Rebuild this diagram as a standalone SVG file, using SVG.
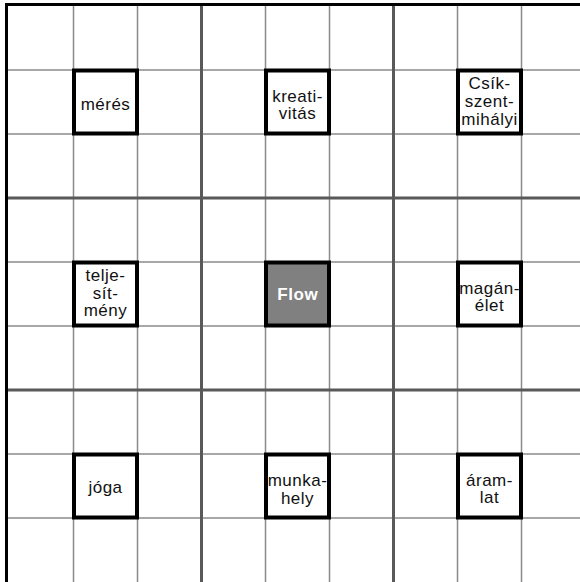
<svg xmlns="http://www.w3.org/2000/svg" width="580" height="582" viewBox="0 0 580 582">
<style>
.thin{stroke:#8a8a8a;stroke-width:1.5;fill:none}
.thick{stroke:#595959;stroke-width:3;fill:none}
.border{stroke:#000;stroke-width:3;fill:none}
.box{fill:#fff;stroke:#000;stroke-width:4}
.center{fill:#808080;stroke:#000;stroke-width:4}
.lbl{font-family:"Liberation Sans",Arial,sans-serif;font-size:17px;letter-spacing:0.5px;fill:#111;text-anchor:middle}
.flow{font-family:"Liberation Sans",Arial,sans-serif;font-size:17px;font-weight:bold;letter-spacing:0.6px;fill:#fff;text-anchor:middle}
</style>
<rect width="580" height="582" fill="#fff"/>
<g id="grid">
<path class="thin" d="M73.5 4V582M137.5 4V582M265.5 4V582M329.5 4V582M457.5 4V582M521.5 4V582"/>
<path class="thin" d="M7 70H580M7 134H580M7 262H580M7 326H580M7 454H580M7 518H580"/>
<path class="thick" d="M201.5 4V582M393.5 4V582M7 198H580M7 390H580"/>
<path class="border" d="M6.5 582V4.5H580"/>
</g>
<g id="connectors"></g>
<g id="n-meres"><rect class="box" x="74" y="70.5" width="63" height="63"/><text class="lbl" x="105.5" y="110">mérés</text></g>
<g id="n-kreativitas"><rect class="box" x="266" y="70.5" width="63" height="63"/><text class="lbl" x="297.5" y="101.5">kreati-</text><text class="lbl" x="297.5" y="119">vitás</text></g>
<g id="n-csikszentmihalyi"><rect class="box" x="458" y="70.5" width="63" height="63"/><text class="lbl" x="489.5" y="89.3">Csík-</text><text class="lbl" x="489.5" y="107">szent-</text><text class="lbl" x="489.5" y="124.7">mihályi</text></g>
<g id="n-teljesitmeny"><rect class="box" x="74" y="262.5" width="63" height="63"/><text class="lbl" x="105.5" y="281">telje-</text><text class="lbl" x="105.5" y="298.5">sít-</text><text class="lbl" x="105.5" y="316">mény</text></g>
<g id="n-flow"><rect class="center" x="266" y="262.5" width="63" height="63"/><text class="flow" x="297.8" y="299.5">Flow</text></g>
<g id="n-maganelet"><rect class="box" x="458" y="262.5" width="63" height="63"/><text class="lbl" x="489.5" y="293.5">magán-</text><text class="lbl" x="489.5" y="311">élet</text></g>
<g id="n-joga"><rect class="box" x="74" y="454.5" width="63" height="63"/><text class="lbl" x="105.5" y="493">jóga</text></g>
<g id="n-munkahely"><rect class="box" x="266" y="454.5" width="63" height="63"/><text class="lbl" x="297.5" y="486">munka-</text><text class="lbl" x="297.5" y="503.5">hely</text></g>
<g id="n-aramlat"><rect class="box" x="458" y="454.5" width="63" height="63"/><text class="lbl" x="489.5" y="485.5">áram-</text><text class="lbl" x="489.5" y="503">lat</text></g>
</svg>
